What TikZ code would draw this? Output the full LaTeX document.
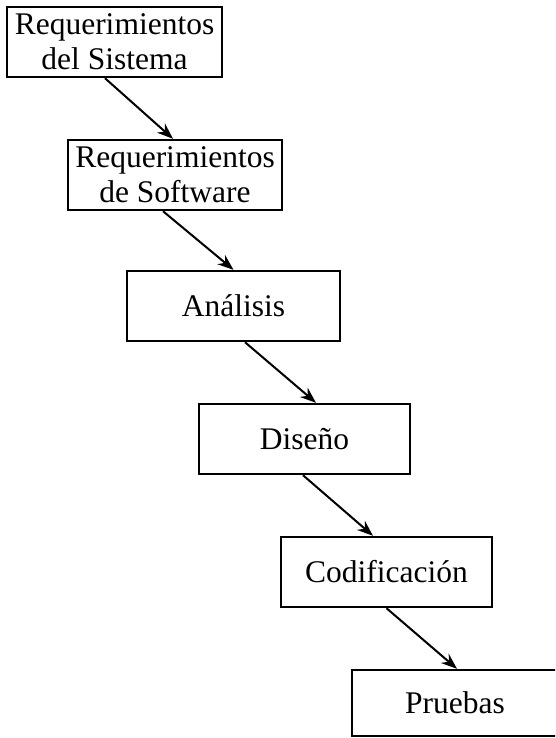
\documentclass[tikz,border=0pt]{standalone}
\usepackage{fontspec}
\setmainfont{Liberation Serif}
\usepackage{tikz}
\usetikzlibrary{arrows.meta,positioning}
\tikzset
{
  stagebox/.style = {rectangle, draw=black, line width=2.4pt, align=center, minimum width=211pt, minimum height=70pt, inner sep=0pt, font=\fontsize{31.5}{35}\selectfont},
  flow/.style     = {-{Stealth[length=16pt,width=12pt]}, line width=2pt}
}
\begin{document}
\begin{tikzpicture}[x=1pt,y=-1pt]
            \useasboundingbox (0,0) rectangle (555,738);
            \clip (0,0) rectangle (555,738);
            \node [stagebox, minimum width=215pt] (sistema) at (114.5,42) {Requerimientos\\del Sistema};
            \node [stagebox, minimum width=214pt] (software) at (175,175) {Requerimientos\\de Software};
            \node [stagebox, minimum width=213pt] (analisis) at (233.5,306) {Análisis};
            \node [stagebox] (diseno) at (304.5,439) {Diseño};
            \node [stagebox] (codigo) at (386.5,572) {Codificación};
            \node [stagebox, minimum width=206pt, minimum height=66pt] (pruebas) at (455,703) {Pruebas};
            % flechas entre etapas
            \draw [flow] ([xshift=-9.5pt]sistema.south) -- ([xshift=-2pt]software.north);
            \draw [flow] ([xshift=-12pt]software.south) -- (analisis.north);
            \draw [flow] ([xshift=11.5pt]analisis.south) -- ([xshift=11.5pt]diseno.north);
            \draw [flow] ([xshift=-1.5pt]diseno.south) -- ([xshift=-13.5pt]codigo.north);
            \draw [flow] (codigo.south) -- ([xshift=2pt]pruebas.north);
\end{tikzpicture}
\end{document}
